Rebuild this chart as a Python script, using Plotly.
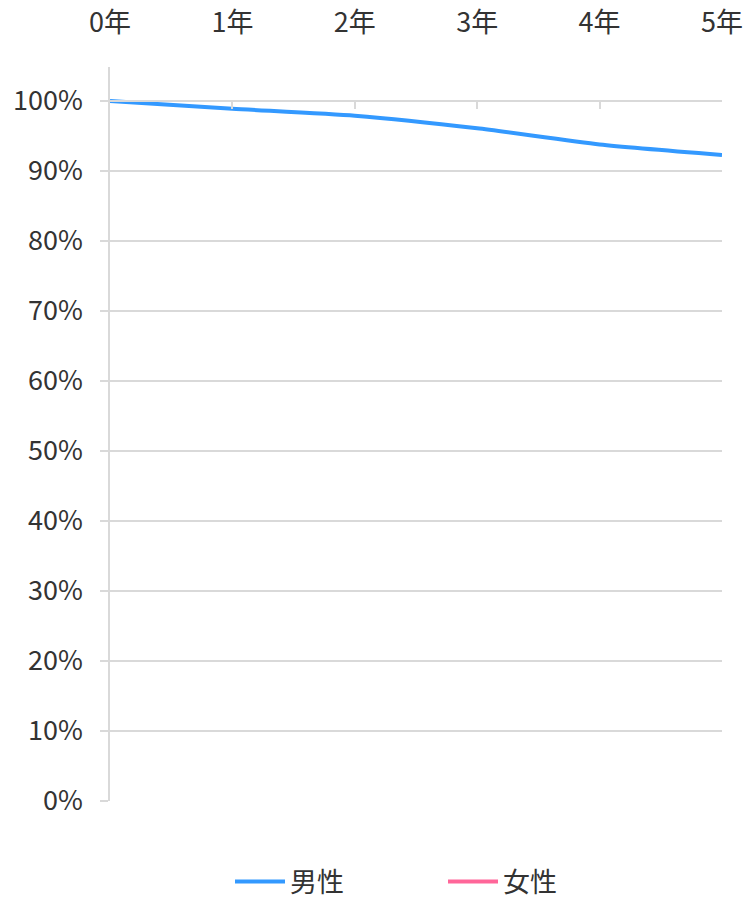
import plotly.graph_objects as go

years = ["0年", "1年", "2年", "3年", "4年", "5年"]
male = [100.0, 98.9, 97.9, 96.1, 93.8, 92.3]
female = [None, None, None, None, None, None]
y_ticks = [0, 10, 20, 30, 40, 50, 60, 70, 80, 90, 100]
y_labels = [f"{v}%" for v in y_ticks]

FONT = "Noto Sans CJK JP"
GRID = "#d9d9d9"
TEXT = "#333333"

fig = go.Figure()
fig.add_trace(go.Scatter(x=list(range(len(years))), y=male, name="男性", mode="lines",
                         line=dict(color="#3399ff", width=4, shape="spline", smoothing=0.6)))
fig.add_trace(go.Scatter(x=list(range(len(years))), y=female, name="女性", mode="lines",
                         line=dict(color="#ff6699", width=4, shape="spline", smoothing=0.6)))

ymax = 104.86
fig.update_layout(
    width=749, height=899,
    margin=dict(l=110, r=27, t=67, b=98),
    paper_bgcolor="white", plot_bgcolor="white",
    font=dict(family=FONT, size=27, color=TEXT),
    showlegend=True,
    legend=dict(orientation="h", x=(230 - 110) / 612, xanchor="left",
                yref="container", y=17 / 899, yanchor="middle",
                font=dict(size=27, color=TEXT), itemwidth=50, tracegroupgap=0,
                entrywidth=148),
    xaxis=dict(
        range=[0, 5], tickmode="array", tickvals=list(range(len(years))), ticktext=years,
        side="top", anchor="free", position=100 / ymax, automargin=False,
        showline=True, linecolor=GRID, linewidth=1.5,
        ticks="inside", ticklen=7, tickcolor=GRID, tickwidth=1.5,
        showgrid=False, zeroline=False, ticklabelstandoff=57,
        tickfont=dict(size=27, color=TEXT),
    ),
    yaxis=dict(
        range=[0, ymax], tickmode="array", tickvals=y_ticks, ticktext=y_labels,
        automargin=False,
        showline=True, linecolor=GRID, linewidth=1.5,
        ticks="outside", ticklen=8, tickcolor=GRID, tickwidth=1.5,
        showgrid=True, gridcolor=GRID, gridwidth=1.5, zeroline=False,
        ticklabelstandoff=12, tickfont=dict(size=27, color=TEXT),
    ),
)
fig.write_html("out.html", config={"displayModeBar": False},
               post_script="document.body.style.margin='0';document.body.style.overflow='hidden';")
